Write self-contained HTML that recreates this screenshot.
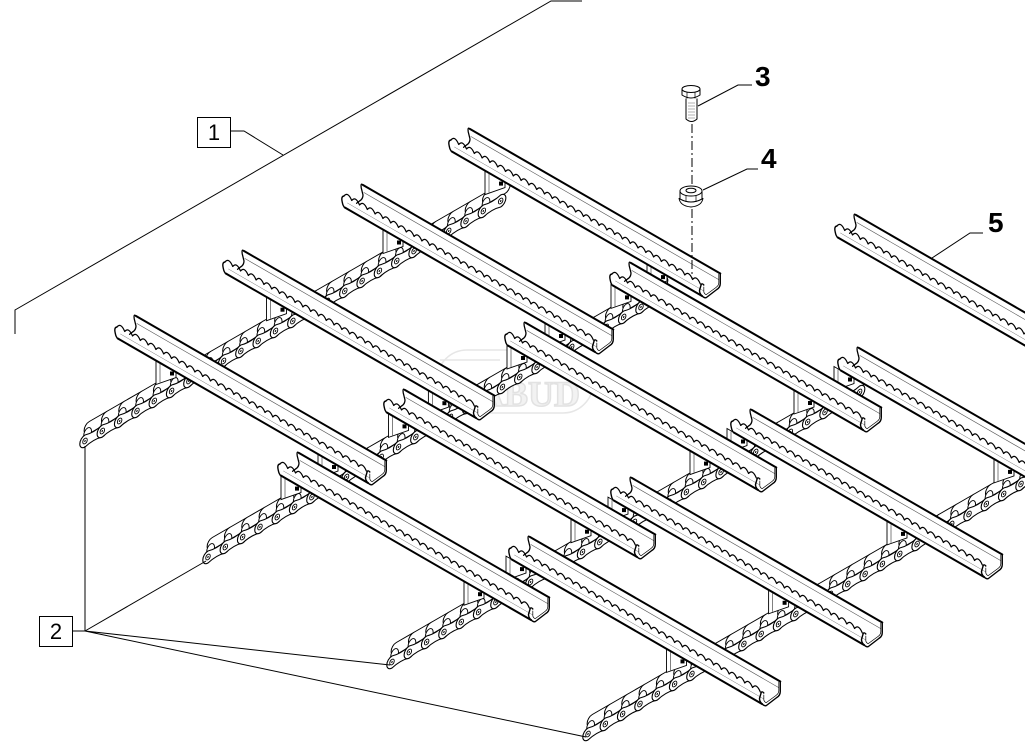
<!DOCTYPE html>
<html><head><meta charset="utf-8">
<style>
html,body{margin:0;padding:0;background:#fff;}
svg{display:block;}
*{vector-effect:non-scaling-stroke;}
</style></head><body>
<svg width="1025" height="749" viewBox="0 0 1025 749" xmlns="http://www.w3.org/2000/svg" font-family="'Liberation Sans', Arial, sans-serif">
<defs>
 <g id="slat" stroke="#000" fill="none" stroke-linejoin="round" stroke-linecap="round">
  <path d="M0,0 H289 V10 Q289,14 285,18 L273,32 Q271,34 268,33 H-21 Q-25,32 -24,29 L-22,22 H-7.4 L-4,18 Q0,14 0,10 Z" fill="#fff" stroke="none"/>
  <path d="M0,0 H289" stroke-width="2"/>
  <path d="M1,7 H287" stroke-width="0.6" stroke="#555"/>
  <path d="M-18,27 H270" stroke-width="0.5" stroke="#777"/>
  <path d="M-21,33 H268" stroke-width="2"/>
  <path d="M-22,22 q4.5,-7 9,0 q4.5,-7 9,0 q4.5,-7 9,0 q4.5,-7 9,0 q4.5,-7 9,0 q4.5,-7 9,0 q4.5,-7 9,0 q4.5,-7 9,0 q4.5,-7 9,0 q4.5,-7 9,0 q4.5,-7 9,0 q4.5,-7 9,0 q4.5,-7 9,0 q4.5,-7 9,0 q4.5,-7 9,0 q4.5,-7 9,0 q4.5,-7 9,0 q4.5,-7 9,0 q4.5,-7 9,0 q4.5,-7 9,0 q4.5,-7 9,0 q4.5,-7 9,0 q4.5,-7 9,0 q4.5,-7 9,0 q4.5,-7 9,0 q4.5,-7 9,0 q4.5,-7 9,0 q4.5,-7 9,0 q4.5,-7 9,0 q4.5,-7 9,0 q4.5,-7 9,0 q4.5,-7 9,0" stroke-width="1.2"/>
  <path d="M0,0 Q-3,-1 -2,4 L0,10 Q0,14 -4,18 L-7.4,22" stroke-width="1.3"/>
  <path d="M-22,22 Q-25.5,24 -24,29 Q-23,33 -21,33" stroke-width="1.4"/>
  <path d="M289,0 V10 Q289,14 285,18 L273,32 Q271,34 268,33 Q265,32 265,29 L267,22 Q268,20 270,21" stroke-width="1.4"/>
  <path d="M287.3,1.5 V10 Q287.3,13 284,16.5 L273,29 Q271,30 270,28 L270,23" stroke-width="0.7"/>
 </g>
 <g id="link" stroke="#000">
  <path d="M5,-17 H25 A6,6 0 0 1 25,-5 H5 A6,6 0 0 1 5,-17 Z" fill="#fff" stroke-width="1"/>
  <ellipse cx="3" cy="-6" rx="4.5" ry="5.5" fill="#fff" stroke-width="0.9"/>
  <path d="M0,-6 Q10,-3 20,-6 A6,6 0 0 1 20,6 Q10,3 0,6 A6,6 0 0 1 0,-6 Z" fill="#fff" stroke-width="1.1"/>
  <circle cx="0" cy="0" r="2.6" fill="#fff" stroke-width="0.9"/>
  <circle cx="20" cy="0" r="2.6" fill="#fff" stroke-width="0.9"/>
  <circle cx="0" cy="0" r="0.9" fill="#000" stroke="none"/>
  <circle cx="20" cy="0" r="0.9" fill="#000" stroke="none"/>
 </g>
 <g id="lug" stroke="#000">
  <path d="M-45,-26 L-25,-14.4 L-25,-9 L-45,-2 Z" fill="#fff" stroke-width="0.9"/>
  <path d="M-41,-23 V-4" stroke-width="0.5"/>
  <rect x="-31" y="-15" width="4" height="4" fill="#000" stroke="none"/>
 </g>
</defs>

<!-- watermark -->
<g fill="none" stroke="#e6e6e6" stroke-width="1.5">
 <rect x="437" y="350" width="156" height="63" rx="30"/>
 <text x="452" y="406" font-family="'Liberation Serif', serif" font-weight="bold" font-size="36" fill="#f2f2f2" stroke="#e2e2e2">RABUD</text>
 <path d="M440,360 H500"/>
</g>

<!-- chains -->
<g transform="matrix(0.866,-0.5,0,1,85,441)">
 <use href="#link" x="0"/><use href="#link" x="20"/><use href="#link" x="40"/><use href="#link" x="60"/><use href="#link" x="80"/><use href="#link" x="100"/><use href="#link" x="120"/><use href="#link" x="140"/><use href="#link" x="160"/><use href="#link" x="180"/><use href="#link" x="200"/><use href="#link" x="220"/><use href="#link" x="240"/><use href="#link" x="260"/><use href="#link" x="280"/><use href="#link" x="300"/><use href="#link" x="320"/><use href="#link" x="340"/><use href="#link" x="360"/><use href="#link" x="380"/><use href="#link" x="400"/><use href="#link" x="420"/><use href="#link" x="440"/><use href="#link" x="460"/>
</g>
<g transform="matrix(0.866,-0.5,0,1,208,557)">
 <use href="#link" x="0"/><use href="#link" x="20"/><use href="#link" x="40"/><use href="#link" x="60"/><use href="#link" x="80"/><use href="#link" x="100"/><use href="#link" x="120"/><use href="#link" x="140"/><use href="#link" x="160"/><use href="#link" x="180"/><use href="#link" x="200"/><use href="#link" x="220"/><use href="#link" x="240"/><use href="#link" x="260"/><use href="#link" x="280"/><use href="#link" x="300"/><use href="#link" x="320"/><use href="#link" x="340"/><use href="#link" x="360"/><use href="#link" x="380"/><use href="#link" x="400"/><use href="#link" x="420"/><use href="#link" x="440"/><use href="#link" x="460"/><use href="#link" x="480"/><use href="#link" x="500"/>
</g>
<g transform="matrix(0.866,-0.5,0,1,392,662)">
 <use href="#link" x="0"/><use href="#link" x="20"/><use href="#link" x="40"/><use href="#link" x="60"/><use href="#link" x="80"/><use href="#link" x="100"/><use href="#link" x="120"/><use href="#link" x="140"/><use href="#link" x="160"/><use href="#link" x="180"/><use href="#link" x="200"/><use href="#link" x="220"/><use href="#link" x="240"/><use href="#link" x="260"/><use href="#link" x="280"/><use href="#link" x="300"/><use href="#link" x="320"/><use href="#link" x="340"/><use href="#link" x="360"/><use href="#link" x="380"/><use href="#link" x="400"/><use href="#link" x="420"/><use href="#link" x="440"/><use href="#link" x="460"/><use href="#link" x="480"/><use href="#link" x="500"/><use href="#link" x="520"/>
</g>
<g transform="matrix(0.866,-0.5,0,1,588,734)">
 <use href="#link" x="0"/><use href="#link" x="20"/><use href="#link" x="40"/><use href="#link" x="60"/><use href="#link" x="80"/><use href="#link" x="100"/><use href="#link" x="120"/><use href="#link" x="140"/><use href="#link" x="160"/><use href="#link" x="180"/><use href="#link" x="200"/><use href="#link" x="220"/><use href="#link" x="240"/><use href="#link" x="260"/><use href="#link" x="280"/><use href="#link" x="300"/><use href="#link" x="320"/><use href="#link" x="340"/><use href="#link" x="360"/><use href="#link" x="380"/><use href="#link" x="400"/><use href="#link" x="420"/><use href="#link" x="440"/><use href="#link" x="460"/><use href="#link" x="480"/><use href="#link" x="500"/><use href="#link" x="520"/>
</g>

<!-- lugs -->
<use href="#lug" x="530" y="196.6"/><use href="#lug" x="428" y="255.5"/><use href="#lug" x="311.5" y="322.7"/><use href="#lug" x="201" y="386.5"/>
<use href="#lug" x="692" y="290.1"/><use href="#lug" x="590" y="349"/><use href="#lug" x="473.4" y="416.2"/><use href="#lug" x="363" y="480"/>
<use href="#lug" x="656" y="310.4"/><use href="#lug" x="552" y="371"/><use href="#lug" x="433.5" y="439.4"/><use href="#lug" x="326" y="501.6"/>
<use href="#lug" x="839" y="416"/><use href="#lug" x="735" y="476.6"/><use href="#lug" x="616" y="544.7"/><use href="#lug" x="509" y="607.2"/>
<use href="#lug" x="879" y="392.5"/><use href="#lug" x="772" y="454.5"/><use href="#lug" x="653" y="523.1"/><use href="#lug" x="551" y="582.1"/>
<use href="#lug" x="932" y="546.9"/><use href="#lug" x="813.6" y="615.8"/><use href="#lug" x="711.5" y="674.4"/><use href="#lug" x="1039" y="484.9"/>

<!-- slats row 1 -->
<use href="#slat" transform="matrix(0.866,0.5,0,1,470,129)"/>
<use href="#slat" transform="matrix(0.866,0.5,0,1,363,185)"/>
<use href="#slat" transform="matrix(0.866,0.5,0,1,244,251)"/>
<use href="#slat" transform="matrix(0.866,0.5,0,1,136,316)"/>
<!-- row 2 -->
<use href="#slat" transform="matrix(0.866,0.5,0,1,631,263)"/>
<use href="#slat" transform="matrix(0.866,0.5,0,1,526,323)"/>
<use href="#slat" transform="matrix(0.866,0.5,0,1,405,390)"/>
<use href="#slat" transform="matrix(0.866,0.5,0,1,299,453)"/>
<!-- row 3 -->
<use href="#slat" transform="matrix(0.866,0.5,0,1,859,348)"/>
<use href="#slat" transform="matrix(0.866,0.5,0,1,752,410)"/>
<use href="#slat" transform="matrix(0.866,0.5,0,1,632,478)"/>
<use href="#slat" transform="matrix(0.866,0.5,0,1,530,537)"/>
<!-- item 5 -->
<use href="#slat" transform="matrix(0.866,0.5,0,1,856,215)"/>

<!-- bolt -->
<g stroke="#000" fill="#fff" stroke-width="1">
 <path d="M682,89 V95 Q691,101 700,95 V89"/>
 <ellipse cx="691" cy="89" rx="9" ry="3.5"/>
 <path d="M687,92 V98.5 M695,92 V98.5" stroke-width="0.7" fill="none"/>
 <path d="M686,98.5 V119 Q691.5,124 697,119 V98.5"/>
 <path d="M688,103 H695 M688,106 H695 M688,109 H695 M688,112 H695 M688,115 H695 M688,118 H695" stroke="#666" stroke-width="0.6" fill="none"/>
</g>
<!-- nut -->
<g stroke="#000" fill="#fff" stroke-width="1">
 <path d="M679,198 Q680,206 691,207 Q702,206 703,198"/>
 <path d="M680,191 V199 Q691,205 702,199 V191"/>
 <ellipse cx="691" cy="191" rx="11" ry="5"/>
 <ellipse cx="691" cy="190.5" rx="5" ry="2.3"/>
 <path d="M686,195 V202 M696,195 V202" stroke-width="0.7" fill="none"/>
</g>
<path d="M692,124 V184 M692,209 V279" stroke="#000" stroke-width="1" stroke-dasharray="9 3 2 3" fill="none"/>

<!-- leaders -->
<g stroke="#000" stroke-width="1" fill="none">
 <path d="M15,334 V310 L551,1 H582"/>
 <path d="M230.5,131 H244 L283,155"/>
 <path d="M752,85 H738 L698,106"/>
 <path d="M758,169 H747 L703,190"/>
 <path d="M983,233 H970 L932,258"/>
 <path d="M72.5,631 H85 V446 M85,631 L206,561 M85,631 L390,665 M85,631 L586,737"/>
 <rect x="197.5" y="117.5" width="33" height="30" fill="#fff"/>
 <rect x="39.5" y="616.5" width="33" height="30" fill="#fff"/>
</g>

<!-- labels -->
<g fill="#000">
 <text x="214" y="140" text-anchor="middle" font-size="22">1</text>
 <text x="56" y="639" text-anchor="middle" font-size="22">2</text>
 <text x="755" y="86" font-size="28" font-weight="bold">3</text>
 <text x="761" y="168" font-size="28" font-weight="bold">4</text>
 <text x="988" y="232" font-size="28" font-weight="bold">5</text>
</g>
</svg>
</body></html>
